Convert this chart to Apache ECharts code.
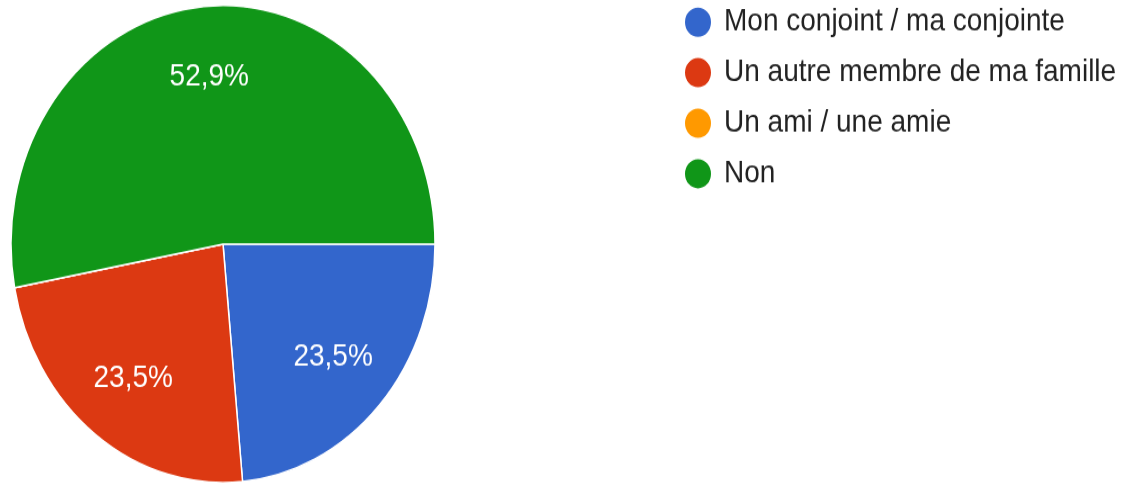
<!DOCTYPE html>
<html>
<head>
  <meta charset="utf-8">
  <title>Pie</title>
  <script src="https://cdn.jsdelivr.net/npm/echarts@6/dist/echarts.min.js"></script>
  <style>
    html, body { margin: 0; padding: 0; background: #fff; width: 1127px; height: 483px; }
    /* the reference pie is taller than wide, so the chart is drawn flat and stretched */
    #main { width: 1127px; height: 429.33px; transform: scaleY(1.125); transform-origin: 0 0; }
  </style>
</head>
<body>
  <div id="main"></div>
  <script type="text/javascript">
    var categories = ['Mon conjoint / ma conjointe', 'Un autre membre de ma famille', 'Un ami / une amie', 'Non'];
    var counts = [4, 4, 0, 9];
    var colors = ['#3366cc', '#dc3912', '#ff9900', '#109618'];

    var myChart = echarts.init(document.getElementById('main'));
    var font = "'Liberation Sans', Arial, sans-serif";

    var pieData = categories.map(function (name, i) {
      return { name: name, value: counts[i], itemStyle: { color: colors[i] } };
    });

    var option = {
      animation: false,
      legend: {
        orient: 'vertical',
        left: 683,
        top: 4.7,
        padding: 0,
        itemWidth: 28,
        itemHeight: 28,
        itemGap: 14.9,
        icon: 'circle',
        data: categories,
        textStyle: { fontSize: 28, lineHeight: 28, color: '#222', fontFamily: font, padding: [0, 0, 0, 7] }
      },
      series: [
        {
          name: 'slices',
          type: 'pie',
          center: [223, 216.9],
          radius: [0, 212],
          startAngle: 0,
          clockwise: true,
          silent: true,
          itemStyle: { borderColor: '#fff', borderWidth: 1.5 },
          label: { show: false },
          labelLine: { show: false },
          data: pieData
        },
        {
          // transparent ring only used to put the labels at ~0.7 of the radius
          name: 'labels',
          type: 'pie',
          center: [223, 216.9],
          radius: [80, 212],
          startAngle: 0,
          clockwise: true,
          silent: true,
          itemStyle: { color: 'rgba(0,0,0,0)', borderWidth: 0 },
          label: {
            show: true,
            position: 'inside',
            color: '#fff',
            fontSize: 28,
            fontFamily: font,
            formatter: function (p) {
              if (!p.value) return '';
              return p.percent.toFixed(1).replace('.', ',') + '%';
            }
          },
          labelLine: { show: false },
          data: categories.map(function (name, i) {
            return { name: name, value: counts[i] };
          })
        }
      ]
    };
    myChart.setOption(option);
  </script>
</body>
</html>
